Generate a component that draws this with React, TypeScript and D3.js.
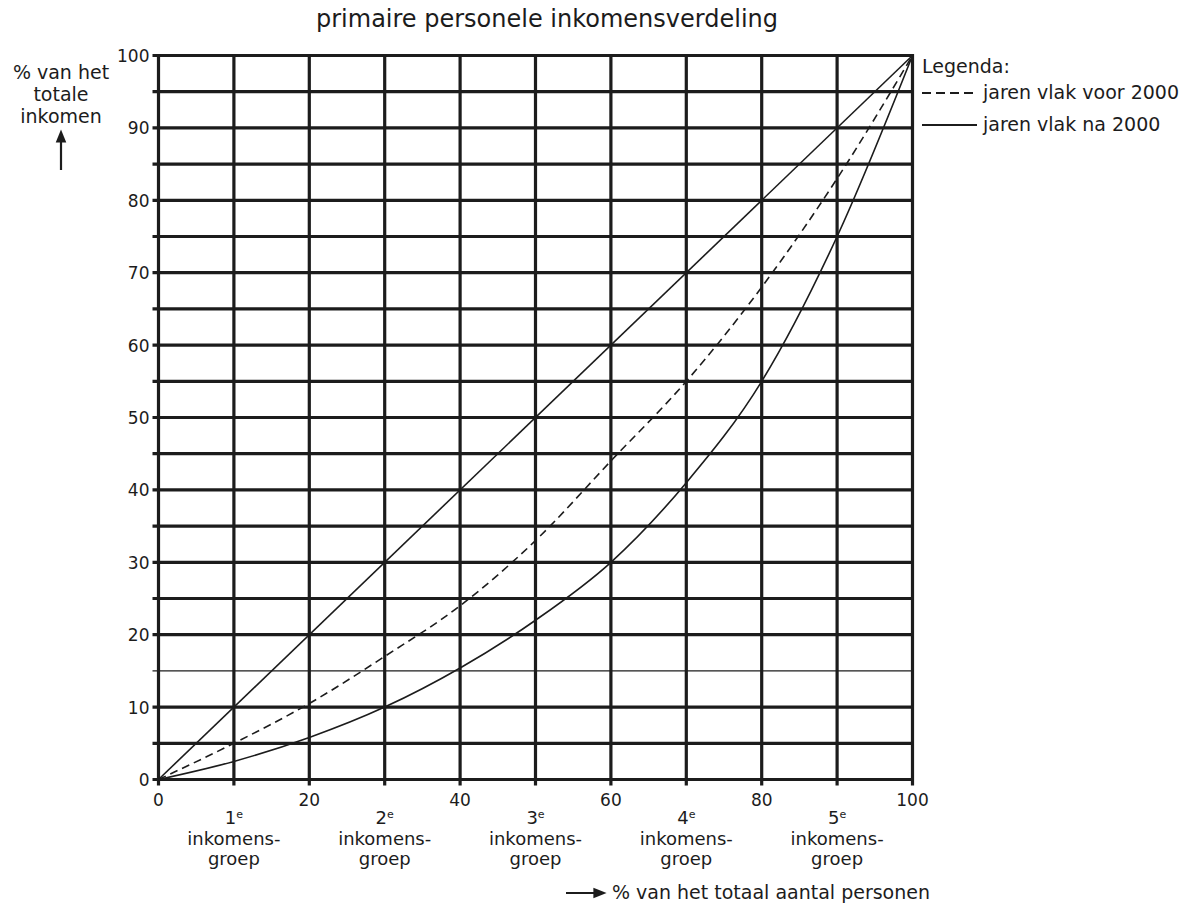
import React from "react";
import * as d3 from "d3";

const title = "primaire personele inkomensverdeling";
const xTicks = [0, 20, 40, 60, 80, 100];
const yTicks = [0, 10, 20, 30, 40, 50, 60, 70, 80, 90, 100];
const groupPositions = [10, 30, 50, 70, 90];
const groupNumbers = ["1", "2", "3", "4", "5"];

const equality = [
  { x: 0, y: 0 },
  { x: 100, y: 100 },
];
const before2000 = [
  { x: 0, y: 0 },
  { x: 10, y: 5 },
  { x: 20, y: 10.5 },
  { x: 30, y: 17 },
  { x: 40, y: 24 },
  { x: 50, y: 33 },
  { x: 60, y: 44 },
  { x: 70, y: 55 },
  { x: 80, y: 68 },
  { x: 90, y: 83 },
  { x: 100, y: 100 },
];
const after2000 = [
  { x: 0, y: 0 },
  { x: 10, y: 2.5 },
  { x: 20, y: 5.8 },
  { x: 30, y: 10 },
  { x: 40, y: 15.4 },
  { x: 50, y: 22 },
  { x: 60, y: 30 },
  { x: 70, y: 41 },
  { x: 80, y: 55 },
  { x: 90, y: 75 },
  { x: 100, y: 100 },
];

export default function App() {
  const W = 1193;
  const H = 903;
  const x = d3.scaleLinear().domain([0, 100]).range([158.5, 912.5]);
  const y = d3.scaleLinear().domain([0, 100]).range([779.5, 55.5]);
  const ink = "#1c1c1c";
  const font = "'DejaVu Sans', sans-serif";

  const hLines = d3.range(0, 101, 5);
  const vLines = d3.range(0, 101, 10);

  const line = d3
    .line<{ x: number; y: number }>()
    .x((d) => x(d.x))
    .y((d) => y(d.y))
    .curve(d3.curveMonotoneX);

  return (
    <svg
      width={W}
      height={H}
      style={{ position: "absolute", left: 0, top: 0, background: "#fff" }}
      fontFamily={font}
    >
      <defs>
        <marker id="arrUp" viewBox="0 0 10 10" refX="5" refY="5" markerWidth="6" markerHeight="6" orient="auto">
          <path d="M0,1 L10,5 L0,9 z" fill={ink} />
        </marker>
      </defs>
      <text x={547} y={27} textAnchor="middle" fontSize={24} fill={ink}>
        {title}
      </text>

      {/* grid horizontals */}
      {hLines.map((v) => (
        <line
          key={"h" + v}
          x1={x(0) - 6}
          x2={x(100)}
          y1={y(v)}
          y2={y(v)}
          stroke={ink}
          strokeWidth={v === 15 ? 1.3 : 3.2}
        />
      ))}
      {vLines.map((v) => (
        <line
          key={"v" + v}
          x1={x(v)}
          x2={x(v)}
          y1={y(100) - 1.6}
          y2={y(0) + 6}
          stroke={ink}
          strokeWidth={3.2}
        />
      ))}

      {/* curves */}
      <path d={line(equality) || ""} fill="none" stroke={ink} strokeWidth={1.6} />
      <path d={line(before2000) || ""} fill="none" stroke={ink} strokeWidth={1.6} strokeDasharray="8,5" />
      <path d={line(after2000) || ""} fill="none" stroke={ink} strokeWidth={1.6} />

      {/* y tick labels */}
      {yTicks.map((v) => (
        <text key={"yt" + v} x={x(0) - 9} y={y(v) + 6.5} textAnchor="end" fontSize={17} fill={ink}>
          {v}
        </text>
      ))}
      {/* x tick labels */}
      {xTicks.map((v) => (
        <text key={"xt" + v} x={x(v)} y={806} textAnchor="middle" fontSize={17} fill={ink}>
          {v}
        </text>
      ))}
      {/* group labels */}
      {groupPositions.map((p, i) => (
        <g key={"g" + p} fontSize={18} fill={ink} textAnchor="middle">
          <text x={x(p)} y={824}>
            {groupNumbers[i]}
            <tspan fontSize={11} dy={-6}>e</tspan>
          </text>
          <text x={x(p)} y={845}>inkomens-</text>
          <text x={x(p)} y={865}>groep</text>
        </g>
      ))}

      {/* y axis title */}
      <g fontSize={19} fill={ink} textAnchor="middle">
        <text x={61} y={79}>% van het</text>
        <text x={61} y={101}>totale</text>
        <text x={61} y={123}>inkomen</text>
      </g>
      <line x1={61} y1={170} x2={61} y2={136} stroke={ink} strokeWidth={2.2} markerEnd="url(#arrUp)" />

      {/* x axis title */}
      <line x1={566} y1={893} x2={600} y2={893} stroke={ink} strokeWidth={2.2} markerEnd="url(#arrUp)" />
      <text x={612} y={899} fontSize={19} fill={ink}>
        % van het totaal aantal personen
      </text>

      {/* legend */}
      <text x={922} y={73} fontSize={19} fill={ink}>Legenda:</text>
      <line x1={922} x2={977} y1={93} y2={93} stroke={ink} strokeWidth={2} strokeDasharray="9,5" />
      <text x={983} y={99} fontSize={19} fill={ink}>jaren vlak voor 2000</text>
      <line x1={922} x2={977} y1={125} y2={125} stroke={ink} strokeWidth={2} />
      <text x={983} y={131} fontSize={19} fill={ink}>jaren vlak na 2000</text>
    </svg>
  );
}
